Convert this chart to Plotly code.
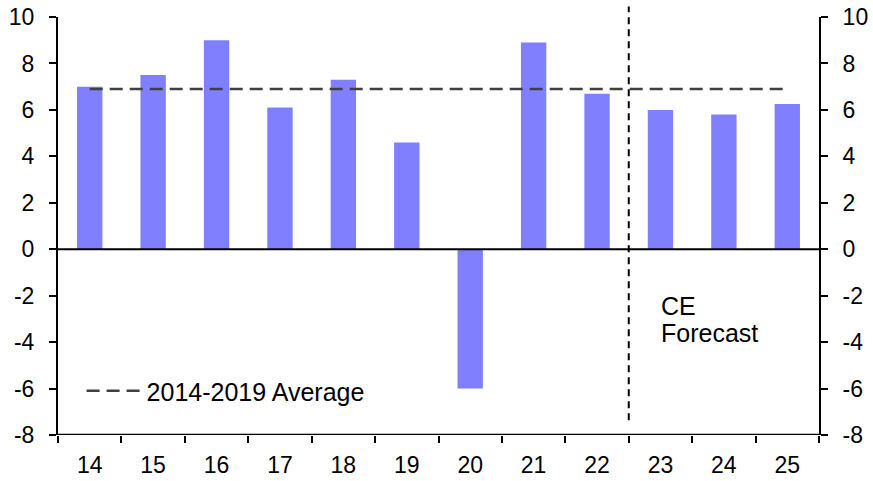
import plotly.graph_objects as go

years = ["14", "15", "16", "17", "18", "19", "20", "21", "22", "23", "24", "25"]
growth = [7.0, 7.5, 9.0, 6.1, 7.3, 4.6, -6.0, 8.9, 6.7, 6.0, 5.8, 6.25]
avg_value = 6.9
avg_label = "2014-2019 Average"
forecast_lines = ["CE", "Forecast"]
forecast_y = [-2.45, -3.6]
y_ticks = [-8, -6, -4, -2, 0, 2, 4, 6, 8, 10]
y_tick_text = [str(v) for v in y_ticks]

FONT = "Liberation Sans, Arial, sans-serif"

fig = go.Figure()
fig.add_trace(go.Bar(
    x=years, y=growth, marker=dict(color="#8080FF", line=dict(width=0)),
    showlegend=False, hoverinfo="skip",
))
fig.add_trace(go.Scatter(
    x=years, y=[avg_value] * len(years), mode="lines",
    line=dict(color="#404040", width=2.5, dash="13px,7px"),
    name=avg_label, showlegend=True,
))
# invisible trace to host the right axis
fig.add_trace(go.Scatter(
    x=years, y=[None] * len(years), yaxis="y2", mode="lines",
    showlegend=False, hoverinfo="skip",
))

axis_common = dict(
    range=[-8, 10], tickvals=y_ticks, ticktext=y_tick_text, ticks="outside", ticklen=7,
    tickwidth=2, tickcolor="black", showline=True, linecolor="black", linewidth=2,
    showgrid=False, zeroline=False, tickfont=dict(size=23, color="black", family=FONT),
    ticklabelstandoff=10, fixedrange=True, automargin=False, ticklabeloverflow="allow",
)

fig.update_layout(
    width=873, height=481,
    margin=dict(l=58, r=54, t=17, b=46, autoexpand=False),
    plot_bgcolor="white", paper_bgcolor="white",
    font=dict(family=FONT, size=23, color="black"),
    bargap=0.6,
    xaxis=dict(
        type="category", tickson="boundaries", ticks="outside", ticklen=7, tickwidth=2,
        tickcolor="black", showline=False, showgrid=False, zeroline=False,
        tickfont=dict(size=23, color="black", family=FONT), ticklabelstandoff=14,
        range=[-0.5, len(years) - 0.5], automargin=False, ticklabeloverflow="allow",
        fixedrange=True,
    ),
    yaxis=dict(side="left", **axis_common),
    yaxis2=dict(side="right", overlaying="y", anchor="x", **axis_common),
    legend=dict(
        x=0.031, y=0.105, xanchor="left", yanchor="middle", bgcolor="rgba(0,0,0,0)",
        itemwidth=55, font=dict(size=25, family=FONT, color="black"),
    ),
    showlegend=True,
)

# zero line and bottom axis line
fig.add_hline(y=0, line=dict(color="black", width=2))
fig.add_hline(y=-8, line=dict(color="black", width=2.5))

# forecast divider
fig.add_shape(
    type="line", xref="x", yref="paper", x0=8.5, x1=8.5, y0=0.035, y1=1.025,
    line=dict(color="black", width=2, dash="7px,5px"), layer="above",
)
for txt, yy in zip(forecast_lines, forecast_y):
    fig.add_annotation(
        x=8.97, y=yy, xref="x", yref="y", text=txt, showarrow=False,
        xanchor="left", yanchor="middle", align="left",
        font=dict(size=25, family=FONT, color="black"),
    )

fig.write_html(
    "out.html",
    config={"displayModeBar": False},
    post_script="document.body.style.margin='0';",
)
